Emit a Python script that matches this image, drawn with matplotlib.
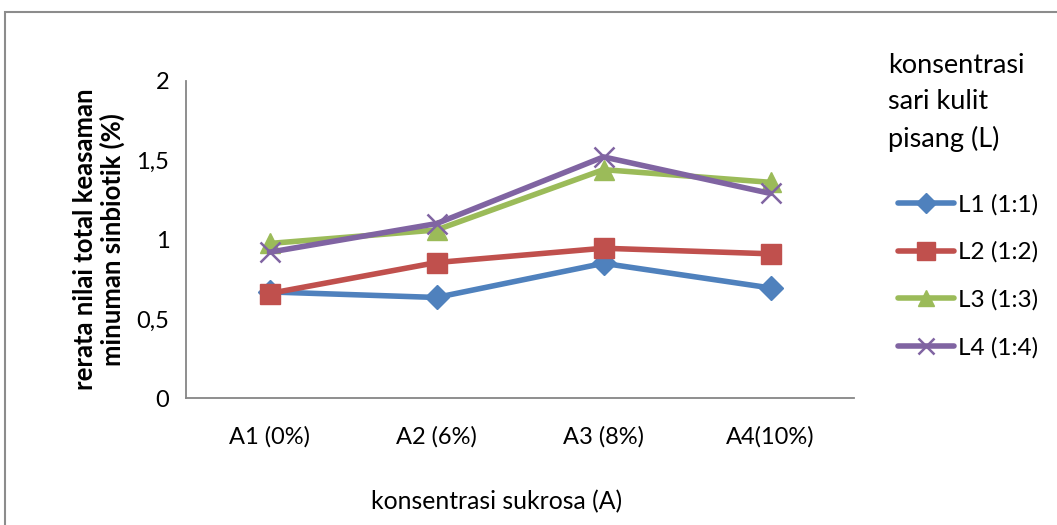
import matplotlib
matplotlib.use('Agg')
import matplotlib.pyplot as plt
from matplotlib.patches import Rectangle

plt.rcParams['font.family'] = ['Lato', 'DejaVu Sans']

categories = ['A1 (0%)', 'A2 (6%)', 'A3 (8%)', 'A4(10%)']
series_names = ['L1 (1:1)', 'L2 (1:2)', 'L3 (1:3)', 'L4 (1:4)']
l1 = [0.67, 0.635, 0.85, 0.695]
l2 = [0.66, 0.855, 0.945, 0.91]
l3 = [0.975, 1.06, 1.44, 1.36]
l4 = [0.92, 1.10, 1.52, 1.29]
yticks = [0, 0.5, 1, 1.5, 2]
ytick_labels = ['0', '0,5', '1', '1,5', '2']

colors = ['#4F81BD', '#C0504D', '#9BBB59', '#8064A2']
markers = [('D', 12, 1), ('s', 15, 1), ('^', 14, 1), ('x', 14, 1.8)]

fig = plt.figure(figsize=(10.57, 5.25), dpi=100)
# outer chart frame
fig.patches.append(Rectangle((5 / 1057, -0.05), 1.1, 1 - 12 / 525 + 0.05,
                             transform=fig.transFigure, fill=False,
                             edgecolor='#8c8c8c', linewidth=1.5))

ax = fig.add_axes([186 / 1057, 0.2413, 668 / 1057, 0.605])
x = range(len(categories))
for vals, name, c, (m, ms, mew) in zip([l1, l2, l3, l4], series_names, colors, markers):
    ax.plot(x, vals, color=c, linewidth=4, marker=m, markersize=ms,
            markeredgewidth=mew, markeredgecolor=c, markerfacecolor=c,
            label=name, solid_capstyle='round')

ax.set_xlim(-0.5, len(categories) - 0.5)
ax.set_ylim(0, 2)
ax.set_xticks(list(x))
ax.set_xticklabels(categories, fontsize=17)
ax.set_yticks(yticks)
ax.set_yticklabels(ytick_labels, fontsize=17)
ax.tick_params(axis='x', length=0, pad=20)
ax.tick_params(axis='y', length=0, pad=12)
for s in ['top', 'right']:
    ax.spines[s].set_visible(False)
for s in ['left', 'bottom']:
    ax.spines[s].set_color('#868686')
    ax.spines[s].set_linewidth(1.3)

ax.set_ylabel('rerata nilai total keasaman\nminuman sinbiotik (%)',
              fontsize=18.5, fontweight='bold', labelpad=8, linespacing=1.15)
fig.text(497 / 1057, 1 - 502 / 525, 'konsentrasi sukrosa (A)', fontsize=17.8,
         ha='center', va='center')

# legend title drawn as separate text block
fig.text(888 / 1057, 1 - 53 / 525, 'konsentrasi\nsari kulit\npisang (L)',
         fontsize=19.5, ha='left', va='top', linespacing=1.55)
leg = fig.legend(loc='upper left', bbox_to_anchor=(898 / 1057, 1 - 194 / 525),
                 frameon=False, fontsize=17.5, handlelength=2.3,
                 handletextpad=0.15, labelspacing=1.07, markerscale=0.85,
                 borderpad=0, borderaxespad=0)

fig.savefig('out.png', dpi=100)
